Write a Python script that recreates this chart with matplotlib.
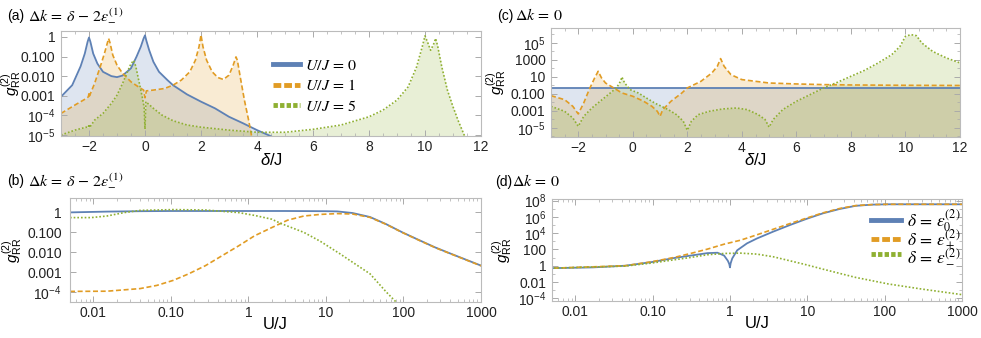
import matplotlib
matplotlib.use('Agg')
import matplotlib.pyplot as plt
import numpy as np
from matplotlib.lines import Line2D
from matplotlib.ticker import FixedLocator, LogLocator, MultipleLocator, NullFormatter

plt.rcParams['font.family'] = ['Liberation Sans', 'DejaVu Sans']
plt.rcParams['mathtext.fontset'] = 'custom'
plt.rcParams['mathtext.rm'] = 'Liberation Sans'
plt.rcParams['mathtext.it'] = 'Liberation Sans:italic'
plt.rcParams['mathtext.bf'] = 'Liberation Sans:bold'

AZUL = '#5E81B5'
LARANJA = '#E19C24'
VERDE = '#8FB032'

# ---------- dados (g2 guardado como log10) ----------
# (a) Delta k = delta - 2 eps_-^(1)
delta_a_u0 = [-3, -2.6, -2.3, -2.15, -2.05, -2, -1.95, -1.85, -1.7, -1.5, -1.2, -1.0, -0.8, -0.5, -0.3,
              -0.15, -0.05, 0, 0.05, 0.15, 0.3, 0.5, 0.8, 1.0, 1.5, 2, 2.5, 3, 3.5, 4, 4.4, 5, 6, 8, 12]
log_a_u0 = [-3.05, -2.46, -1.5, -0.85, -0.25, -0.03, -0.25, -0.85, -1.36, -1.78, -2.0, -2.05, -1.97, -1.6, -1.0,
            -0.5, -0.08, 0.08, -0.2, -0.68, -1.27, -1.78, -2.2, -2.46, -2.93, -3.3, -3.64, -4.07, -4.4, -4.75,
            -5.0, -5.4, -6.0, -7.0, -8.0]

delta_a_u1 = [-3, -2.5, -2.1, -2.02, -2.0, -1.98, -1.8, -1.6, -1.45, -1.35, -1.3, -1.25, -1.15, -1.0, -0.8,
              -0.5, -0.2, -0.05, 0, 0.05, 0.3, 0.7, 1.0, 1.3, 1.6, 1.8, 1.93, 2.0, 2.07, 2.2, 2.4, 2.6, 2.8,
              3.0, 3.15, 3.25, 3.3, 3.4, 3.55, 3.7, 3.8, 4.0, 5, 8, 12]
log_a_u1 = [-3.9, -3.47, -3.14, -3.05, -2.85, -3.0, -2.37, -1.53, -0.85, -0.34, -0.08, -0.3, -0.93, -1.44, -1.86,
            -2.29, -2.58, -2.71, -3.1, -2.75, -2.71, -2.63, -2.46, -2.2, -1.78, -1.19, -0.5, 0.1, -0.5, -1.19,
            -1.78, -2.07, -2.17, -1.95, -1.44, -1.02, -1.2, -2.03, -3.22, -4.24, -5.0, -5.8, -7.0, -8.0, -9.0]

delta_a_u5 = [-3, -2.5, -2.1, -2.02, -2.0, -1.98, -1.8, -1.5, -1.2, -1.0, -0.8, -0.6, -0.5, -0.4, -0.33,
              -0.2, -0.1, -0.03, 0, 0.03, 0.1, 0.3, 0.6, 1.0, 1.5, 2, 3, 4, 5, 6, 7, 8, 8.5, 9, 9.4, 9.7,
              9.9, 10.0, 10.1, 10.2, 10.3, 10.38, 10.45, 10.6, 10.8, 11.0, 11.2, 11.4, 11.6, 12]
log_a_u5 = [-5.0, -4.75, -4.6, -4.62, -4.45, -4.62, -4.24, -3.9, -3.39, -2.97, -2.37, -1.69, -1.36, -1.2, -1.5,
            -2.37, -3.05, -3.6, -4.7, -3.3, -3.39, -3.64, -3.98, -4.27, -4.49, -4.6, -4.75, -4.86, -4.86,
            -4.71, -4.49, -4.07, -3.73, -3.22, -2.54, -1.53, -0.51, 0.05, -0.3, -0.68, -0.4, -0.08, -0.45,
            -1.53, -2.71, -3.56, -4.32, -5.0, -5.6, -6.5]

# (c) Delta k = 0
delta_c_u0 = [-3, 12]
log_c_u0 = [-0.29, -0.29]

delta_c_u1 = [-3, -2.5, -2.2, -2.0, -1.8, -1.6, -1.4, -1.27, -1.15, -1.0, -0.7, -0.4, 0, 0.4, 0.7, 0.9,
              1.0, 1.1, 1.4, 1.8, 2.0, 2.5, 2.9, 3.1, 3.22, 3.35, 3.6, 4.0, 5, 6, 7, 8, 10, 12]
log_c_u1 = [-1.2, -1.67, -2.45, -3.35, -2.06, -0.49, 0.88, 1.67, 0.9, 0.29, -0.29, -0.88, -1.27, -1.86, -2.45,
            -3.04, -3.63, -2.84, -1.86, -0.88, -0.29, 0.49, 1.47, 2.25, 3.16, 2.25, 1.27, 0.69, 0.29, 0.18,
            0.1, 0.06, 0.02, 0.0]

delta_c_u5 = [-3, -2.5, -2.2, -2.0, -1.8, -1.5, -1.2, -0.9, -0.6, -0.45, -0.4, -0.3, -0.1, 0.2, 0.5, 0.8,
              1.0, 1.3, 1.6, 1.85, 2.0, 2.15, 2.4, 2.8, 3.3, 3.8, 4.2, 4.6, 4.85, 5.0, 5.15, 5.5, 6, 6.5, 7,
              7.5, 8, 8.5, 9, 9.5, 9.8, 10.0, 10.2, 10.4, 10.6, 11, 11.5, 12]
log_c_u5 = [-2.45, -3.04, -3.82, -4.8, -3.63, -2.65, -1.86, -1.08, -0.29, 0.49, 1.0, 0.3, -0.49, -0.88, -1.47,
            -2.06, -2.37, -2.84, -3.43, -4.2, -5.27, -4.2, -3.43, -3.04, -2.76, -2.65, -2.84, -3.43, -4.0,
            -4.9, -4.0, -2.84, -1.86, -1.08, -0.29, 0.37, 1.08, 1.78, 2.65, 3.63, 4.6, 5.78, 5.98, 5.86, 5.0,
            4.0, 3.24, 2.65]

# (b) Delta k = delta - 2 eps_-^(1), em funcao de U/J
u_b_azul = [0.005, 0.015, 0.04, 0.1, 0.3, 1, 3, 10, 14, 22, 37, 60, 97, 158, 256, 417, 1000]
log_b_azul = [-0.02, 0.02, 0.04, 0.05, 0.05, 0.05, 0.05, 0.04, 0.03, -0.05, -0.25, -0.61, -1.02, -1.4,
              -1.77, -2.1, -2.68]
u_b_laranja = [0.005, 0.015, 0.04, 0.066, 0.107, 0.17, 0.28, 0.46, 0.75, 1.2, 2.0, 3.2, 5.2, 8.5, 14, 22,
               37, 60, 97, 158, 256, 417, 1000]
log_b_laranja = [-3.97, -3.96, -3.83, -3.67, -3.42, -3.09, -2.68, -2.18, -1.69, -1.19, -0.78, -0.41, -0.2,
                 -0.12, -0.08, -0.1, -0.27, -0.62, -1.03, -1.41, -1.78, -2.11, -2.69]
u_b_verde = [0.005, 0.0094, 0.015, 0.025, 0.04, 0.107, 0.28, 0.75, 1.2, 2.0, 2.65, 5.2, 8.5, 15.3, 22, 37,
             60, 84, 256]
log_b_verde = [-0.28, -0.28, -0.2, -0.03, 0.08, 0.12, 0.1, -0.03, -0.17, -0.36, -0.58, -1.02, -1.47, -2.1,
               -2.51, -3.09, -4.0, -4.58, -7.0]

# (d) Delta k = 0, em funcao de U/J
u_d_azul = [0.0053, 0.017, 0.044, 0.097, 0.19, 0.31, 0.51, 0.69, 0.84, 0.94, 0.98, 1.0, 1.02, 1.07, 1.24,
            1.66, 2.23, 3.64, 5.95, 9.7, 15.8, 25.8, 42, 69, 112, 1000]
log_d_azul = [-0.29, -0.2, 0.0, 0.45, 0.95, 1.25, 1.55, 1.6, 1.25, 0.6, 0.2, -0.2, 0.3, 0.9, 1.9, 2.75,
              3.35, 4.2, 5.0, 5.75, 6.43, 6.96, 7.36, 7.51, 7.55, 7.55]
u_d_laranja = [0.0053, 0.044, 0.097, 0.19, 0.31, 0.51, 0.84, 1.37, 2.23, 3.64, 5.95, 9.7, 15.8, 25.8, 42,
               69, 112, 1000]
log_d_laranja = [-0.29, 0.0, 0.49, 1.02, 1.51, 2.04, 2.65, 3.14, 3.8, 4.49, 5.18, 5.84, 6.49, 7.02, 7.39,
                 7.51, 7.55, 7.55]
u_d_verde = [0.0053, 0.044, 0.097, 0.19, 0.31, 0.51, 0.84, 1.37, 2.23, 3.64, 5.95, 9.7, 15.8, 42, 112,
             300, 1000]
log_d_verde = [-0.29, -0.04, 0.33, 0.73, 1.02, 1.35, 1.51, 1.55, 1.43, 1.1, 0.61, 0.12, -0.41, -1.43,
               -2.24, -2.86, -3.55]

# ---------- ticks ----------
yt_a = [1, 0.1, 0.01, 0.001, 1e-4, 1e-5]
yl_a = ['1', '0.100', '0.010', '0.001', r'$10^{-4}$', r'$10^{-5}$']
yt_b = [1, 0.1, 0.01, 0.001, 1e-4]
yl_b = ['1', '0.100', '0.010', '0.001', r'$10^{-4}$']
yt_c = [1e5, 1e3, 10, 0.1, 1e-3, 1e-5]
yl_c = [r'$10^{5}$', '1000', '10', '0.100', '0.001', r'$10^{-5}$']
yt_d = [1e8, 1e6, 1e4, 100, 1, 0.01, 1e-4]
yl_d = [r'$10^{8}$', r'$10^{6}$', r'$10^{4}$', '100', '1', '0.01', r'$10^{-4}$']
xt_u = [0.01, 0.1, 1, 10, 100, 1000]
xl_u = ['0.01', '0.10', '1', '10', '100', '1000']
xt_delta = [-2, 0, 2, 4, 6, 8, 10, 12]
xl_delta = ['\u22122', '0', '2', '4', '6', '8', '10', '12']

ESTILO = {
    'azul': dict(color=AZUL, lw=1.3),
    'laranja': dict(color=LARANJA, lw=1.2, dashes=(3, 1.6)),
    'verde': dict(color=VERDE, lw=1.2, dashes=(1, 1.2)),
}


def estilo_eixo(ax, ylabel_x, pad_y):
    for s in ax.spines.values():
        s.set_color('#BBBBBB')
        s.set_linewidth(0.8)
    ax.tick_params(which='both', direction='in', top=True, right=True, color='#AAAAAA',
                   labelsize=10, labelcolor='#222222', pad=3)
    ax.tick_params(axis='y', pad=pad_y)
    ax.tick_params(which='major', length=4, width=0.7)
    ax.tick_params(which='minor', length=2, width=0.5)
    ax.set_ylabel(r'$g^{(2)}_{\mathrm{RR}}$', fontsize=11)
    ax.yaxis.set_label_coords(ylabel_x, 0.5)


def curva(ax, x, logy, nome, preencher):
    y = 10.0 ** np.array(logy)
    ax.plot(x, y, **ESTILO[nome])
    if preencher:
        ax.fill_between(x, y, 1e-12, color=ESTILO[nome]['color'], alpha=0.2, lw=0)


def legenda(ax, rotulos, ancora, fs, espaco, pad_txt):
    handles = [Line2D([], [], color=AZUL, lw=3.5),
               Line2D([], [], color=LARANJA, lw=3.5, dashes=(1.6, 0.6)),
               Line2D([], [], color=VERDE, lw=3.5, dashes=(0.9, 0.45))]
    leg = ax.legend(handles, rotulos, loc='center left', bbox_to_anchor=ancora, frameon=False,
                    handlelength=1.7, handletextpad=pad_txt, labelspacing=espaco, fontsize=fs)
    for t in leg.get_texts():
        t.set_math_fontfamily('stix')


fig = plt.figure(figsize=(9.81, 3.38), dpi=100)
W, H = 981.0, 338.0


def eixo(l, r, t, b):
    return fig.add_axes([l / W, 1 - b / H, (r - l) / W, (b - t) / H])


# ---------- Grafico (a) ----------
ax_a = eixo(61, 481, 31, 136)
curva(ax_a, delta_a_u0, log_a_u0, 'azul', True)
curva(ax_a, delta_a_u1, log_a_u1, 'laranja', True)
curva(ax_a, delta_a_u5, log_a_u5, 'verde', True)
ax_a.set_yscale('log')
ax_a.set_xlim(-3, 12)
ax_a.set_ylim(10 ** -5.05, 10 ** 0.3)
ax_a.set_yticks(yt_a, yl_a)
ax_a.set_xticks(xt_delta, xl_delta)
ax_a.xaxis.set_minor_locator(MultipleLocator(0.5))
ax_a.yaxis.set_minor_locator(LogLocator(base=10, subs=np.arange(2, 10)))
ax_a.yaxis.set_minor_formatter(NullFormatter())
estilo_eixo(ax_a, -0.09, 4)
ax_a.set_xlabel(r'$\delta$/J', fontsize=12)
ax_a.xaxis.set_label_coords(0.5, -0.15)
legenda(ax_a, [r'$U/J\,=\,0$', r'$U/J\,=\,1$', r'$U/J\,=\,5$'], (0.47, 0.48), 11.5, 0.35, 0.3)

# ---------- Grafico (b) ----------
ax_b = eixo(70, 481, 198, 302)
curva(ax_b, u_b_azul, log_b_azul, 'azul', False)
curva(ax_b, u_b_laranja, log_b_laranja, 'laranja', False)
curva(ax_b, u_b_verde, log_b_verde, 'verde', False)
ax_b.set_xscale('log')
ax_b.set_yscale('log')
ax_b.set_xlim(0.005, 1000)
ax_b.set_ylim(10 ** -4.5, 10 ** 0.7)
ax_b.set_yticks(yt_b, yl_b)
ax_b.set_xticks(xt_u, xl_u)
for a in (ax_b.xaxis, ax_b.yaxis):
    a.set_minor_locator(LogLocator(base=10, subs=np.arange(2, 10)))
    a.set_minor_formatter(NullFormatter())
estilo_eixo(ax_b, -0.112, 6)
ax_b.set_xlabel('U/J', fontsize=12)
ax_b.xaxis.set_label_coords(0.5, -0.14)

# ---------- Grafico (c) ----------
ax_c = eixo(551, 960, 28, 137)
curva(ax_c, delta_c_u0, log_c_u0, 'azul', True)
curva(ax_c, delta_c_u1, log_c_u1, 'laranja', True)
curva(ax_c, delta_c_u5, log_c_u5, 'verde', True)
ax_c.set_yscale('log')
ax_c.set_xlim(-3, 12)
ax_c.set_ylim(10 ** -6.06, 10 ** 6.76)
ax_c.set_yticks(yt_c, yl_c)
ax_c.set_xticks(xt_delta, xl_delta)
ax_c.xaxis.set_minor_locator(MultipleLocator(0.5))
ax_c.yaxis.set_minor_locator(FixedLocator(10.0 ** np.arange(-6, 7)))
ax_c.yaxis.set_minor_formatter(NullFormatter())
estilo_eixo(ax_c, -0.105, 4)
ax_c.set_xlabel(r'$\delta$/J', fontsize=12)
ax_c.xaxis.set_label_coords(0.5, -0.138)

# ---------- Grafico (d) ----------
ax_d = eixo(552, 962, 199, 301)
curva(ax_d, u_d_azul, log_d_azul, 'azul', False)
curva(ax_d, u_d_laranja, log_d_laranja, 'laranja', False)
curva(ax_d, u_d_verde, log_d_verde, 'verde', False)
ax_d.set_xscale('log')
ax_d.set_yscale('log')
ax_d.set_xlim(0.005, 1000)
ax_d.set_ylim(10 ** -4.33, 10 ** 8.2)
ax_d.set_yticks(yt_d, yl_d)
ax_d.set_xticks(xt_u, xl_u)
ax_d.xaxis.set_minor_locator(LogLocator(base=10, subs=np.arange(2, 10)))
ax_d.xaxis.set_minor_formatter(NullFormatter())
ax_d.yaxis.set_minor_locator(FixedLocator(10.0 ** np.arange(-4, 9)))
ax_d.yaxis.set_minor_formatter(NullFormatter())
estilo_eixo(ax_d, -0.093, 4)
ax_d.set_xlabel('U/J', fontsize=12)
ax_d.xaxis.set_label_coords(0.5, -0.15)
legenda(ax_d, [r'$\delta\,=\,\epsilon_0^{(2)}$', r'$\delta\,=\,\epsilon_+^{(2)}$',
               r'$\delta\,=\,\epsilon_-^{(2)}$'], (0.74, 0.64), 12.5, -0.4, 0.4)

# ---------- titulos dos paineis ----------
titulos = [(7, 20, '(a)', 28, r'$\Delta k\,=\,\delta\,-\,2\epsilon_{-}^{(1)}$'),
           (7, 185, '(b)', 28, r'$\Delta k\,=\,\delta\,-\,2\epsilon_{-}^{(1)}$'),
           (497, 20, '(c)', 515, r'$\Delta k\,=\,0$'),
           (495, 186, '(d)', 512, r'$\Delta k\,=\,0$')]
for x0, yb, rot, x1, expr in titulos:
    fig.text(x0 / W, 1 - yb / H, rot, fontsize=10, va='baseline')
    fig.text(x1 / W, 1 - yb / H, expr, fontsize=11.5, va='baseline', math_fontfamily='stix')

fig.savefig('out.png', dpi=100)
